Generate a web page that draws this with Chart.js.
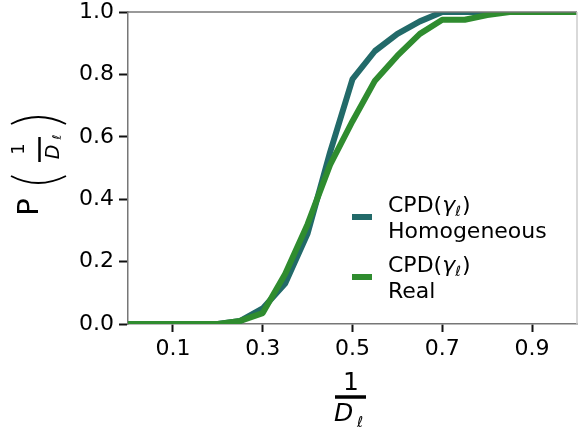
<!DOCTYPE html>
<html>
<head>
<meta charset="utf-8">
<script src="https://cdn.jsdelivr.net/npm/chart.js@4"></script>
<style>
  html, body { margin: 0; padding: 0; background: #fff; }
  #wrap { width: 578px; height: 427px; }
</style>
</head>
<body>
<div id="wrap"><canvas id="myChart"></canvas></div>
<script>
const xs = [0, 0.05, 0.1, 0.15, 0.2, 0.25, 0.3, 0.35, 0.4, 0.45, 0.5,
            0.55, 0.6, 0.65, 0.7, 0.75, 0.8, 0.85, 0.9, 0.95, 1.0];
const homogeneous = [0, 0, 0, 0, 0, 0.01, 0.05, 0.13, 0.29, 0.55, 0.785,
                     0.875, 0.93, 0.97, 1.0, 1.0, 1.0, 1.0, 1.0, 1.0, 1.0];
const real = [0, 0, 0, 0, 0, 0.01, 0.035, 0.16, 0.32, 0.51, 0.65,
              0.78, 0.86, 0.93, 0.975, 0.975, 0.99, 1.0, 1.0, 1.0, 1.0];
const xTicks = [0.1, 0.3, 0.5, 0.7, 0.9];
const seriesNames = ['Homogeneous', 'Real'];

const TEAL = '#226a69';
const GREEN = '#2f8c2f';
const FONT = '"DejaVu Sans", sans-serif';

const pts = (ys) => xs.map((x, i) => ({ x: x, y: ys[i] }));

// draw text rotated -90deg around its centre
function rotText(c, txt, font, cx, cy) {
  c.save();
  c.translate(cx, cy);
  c.rotate(-Math.PI / 2);
  c.font = font;
  c.textAlign = 'center';
  c.textBaseline = 'middle';
  c.fillText(txt, 0, 0);
  c.restore();
}

const extras = {
  id: 'extras',
  afterDraw(chart) {
    const c = chart.ctx;
    const a = chart.chartArea;
    c.save();
    // top + right spines
    c.strokeStyle = '#777';
    c.lineWidth = 1.5;
    c.beginPath();
    c.moveTo(a.left, a.top);
    c.lineTo(a.right, a.top);
    c.stroke();
    c.strokeStyle = '#ccc';
    c.beginPath();
    c.moveTo(a.right, a.top);
    c.lineTo(a.right, a.bottom);
    c.stroke();

    c.fillStyle = '#000';
    c.strokeStyle = '#000';

    // x title: 1 / D_l
    c.font = '25px ' + FONT;
    c.textAlign = 'center';
    c.textBaseline = 'alphabetic';
    c.fillText('1', 351, 390);
    c.lineWidth = 3.5;
    c.beginPath();
    c.moveTo(335, 397);
    c.lineTo(366, 397);
    c.stroke();
    c.font = 'italic 25px ' + FONT;
    c.textAlign = 'left';
    c.fillText('D', 334, 421);
    c.font = 'italic 15px ' + FONT;
    c.fillText('ℓ', 357, 427);

    // y title: P( 1 / D_l )
    rotText(c, 'P', '29px ' + FONT, 30, 207);
    rotText(c, '1', '18px ' + FONT, 19, 149);
    c.lineWidth = 2.5;
    c.beginPath();
    c.moveTo(39.5, 137);
    c.lineTo(39.5, 162);
    c.stroke();
    rotText(c, 'D', 'italic 19px ' + FONT, 54, 152);
    rotText(c, 'ℓ', 'italic 12px ' + FONT, 58, 137);
    c.lineWidth = 1.8;
    c.beginPath();
    c.moveTo(11, 176);
    c.quadraticCurveTo(38, 190, 66, 176);
    c.stroke();
    c.beginPath();
    c.moveTo(11, 124);
    c.quadraticCurveTo(38, 110, 66, 124);
    c.stroke();

    // legend
    const entries = [
      { color: TEAL, name: seriesNames[0], y: 212 },
      { color: GREEN, name: seriesNames[1], y: 272 }
    ];
    entries.forEach(e => {
      c.fillStyle = e.color;
      c.fillRect(352, e.y + 2, 20, 6);
      c.fillStyle = '#000';
      c.textAlign = 'left';
      c.textBaseline = 'alphabetic';
      let x = 388;
      c.font = '22px ' + FONT;
      c.fillText('CPD(', x, e.y);
      x += c.measureText('CPD(').width;
      c.font = 'italic 22px ' + FONT;
      c.fillText('γ', x, e.y);
      x += c.measureText('γ').width;
      c.font = 'italic 14px ' + FONT;
      c.fillText('ℓ', x, e.y + 4);
      x += c.measureText('ℓ').width + 1;
      c.font = '22px ' + FONT;
      c.fillText(')', x, e.y);
      c.fillText(e.name, 388, e.y + 26);
    });
    c.restore();
  }
};

new Chart(document.getElementById('myChart'), {
  type: 'line',
  data: {
    datasets: [
      {
        label: seriesNames[0],
        data: pts(homogeneous),
        borderColor: TEAL,
        borderWidth: 6,
        pointRadius: 0,
        tension: 0,
        borderJoinStyle: 'round',
        clip: 0,
        order: 1
      },
      {
        label: seriesNames[1],
        data: pts(real),
        borderColor: GREEN,
        borderWidth: 6,
        pointRadius: 0,
        tension: 0,
        borderJoinStyle: 'round',
        clip: 0,
        order: 0
      }
    ]
  },
  options: {
    responsive: true,
    maintainAspectRatio: false,
    animation: false,
    layout: { padding: { top: 12, right: 1, left: 0, bottom: 0 } },
    plugins: {
      legend: { display: false },
      tooltip: { enabled: false }
    },
    scales: {
      x: {
        type: 'linear',
        min: 0,
        max: 1.0,
        afterBuildTicks: (s) => { s.ticks = xTicks.map(v => ({ value: v })); },
        afterFit: (s) => { s.height = 103; s.paddingLeft = 0; s.paddingRight = 0; },
        border: { color: '#777', width: 1.5 },
        grid: { drawOnChartArea: false, drawTicks: true, tickLength: 8, tickColor: '#111', tickWidth: 2 },
        ticks: {
          color: '#000',
          padding: 4,
          maxRotation: 0,
          font: { family: FONT, size: 22 },
          callback: (v) => v.toFixed(1)
        }
      },
      y: {
        min: 0,
        max: 1.0,
        afterFit: (s) => { s.width = 128; s.paddingTop = 0; s.paddingBottom = 0; },
        border: { color: '#777', width: 1.5 },
        grid: { drawOnChartArea: false, drawTicks: true, tickLength: 9, tickColor: '#111', tickWidth: 2 },
        ticks: {
          color: '#000',
          padding: 5,
          stepSize: 0.2,
          font: { family: FONT, size: 22 },
          callback: (v) => v.toFixed(1)
        }
      }
    }
  },
  plugins: [extras]
});
</script>
</body>
</html>
